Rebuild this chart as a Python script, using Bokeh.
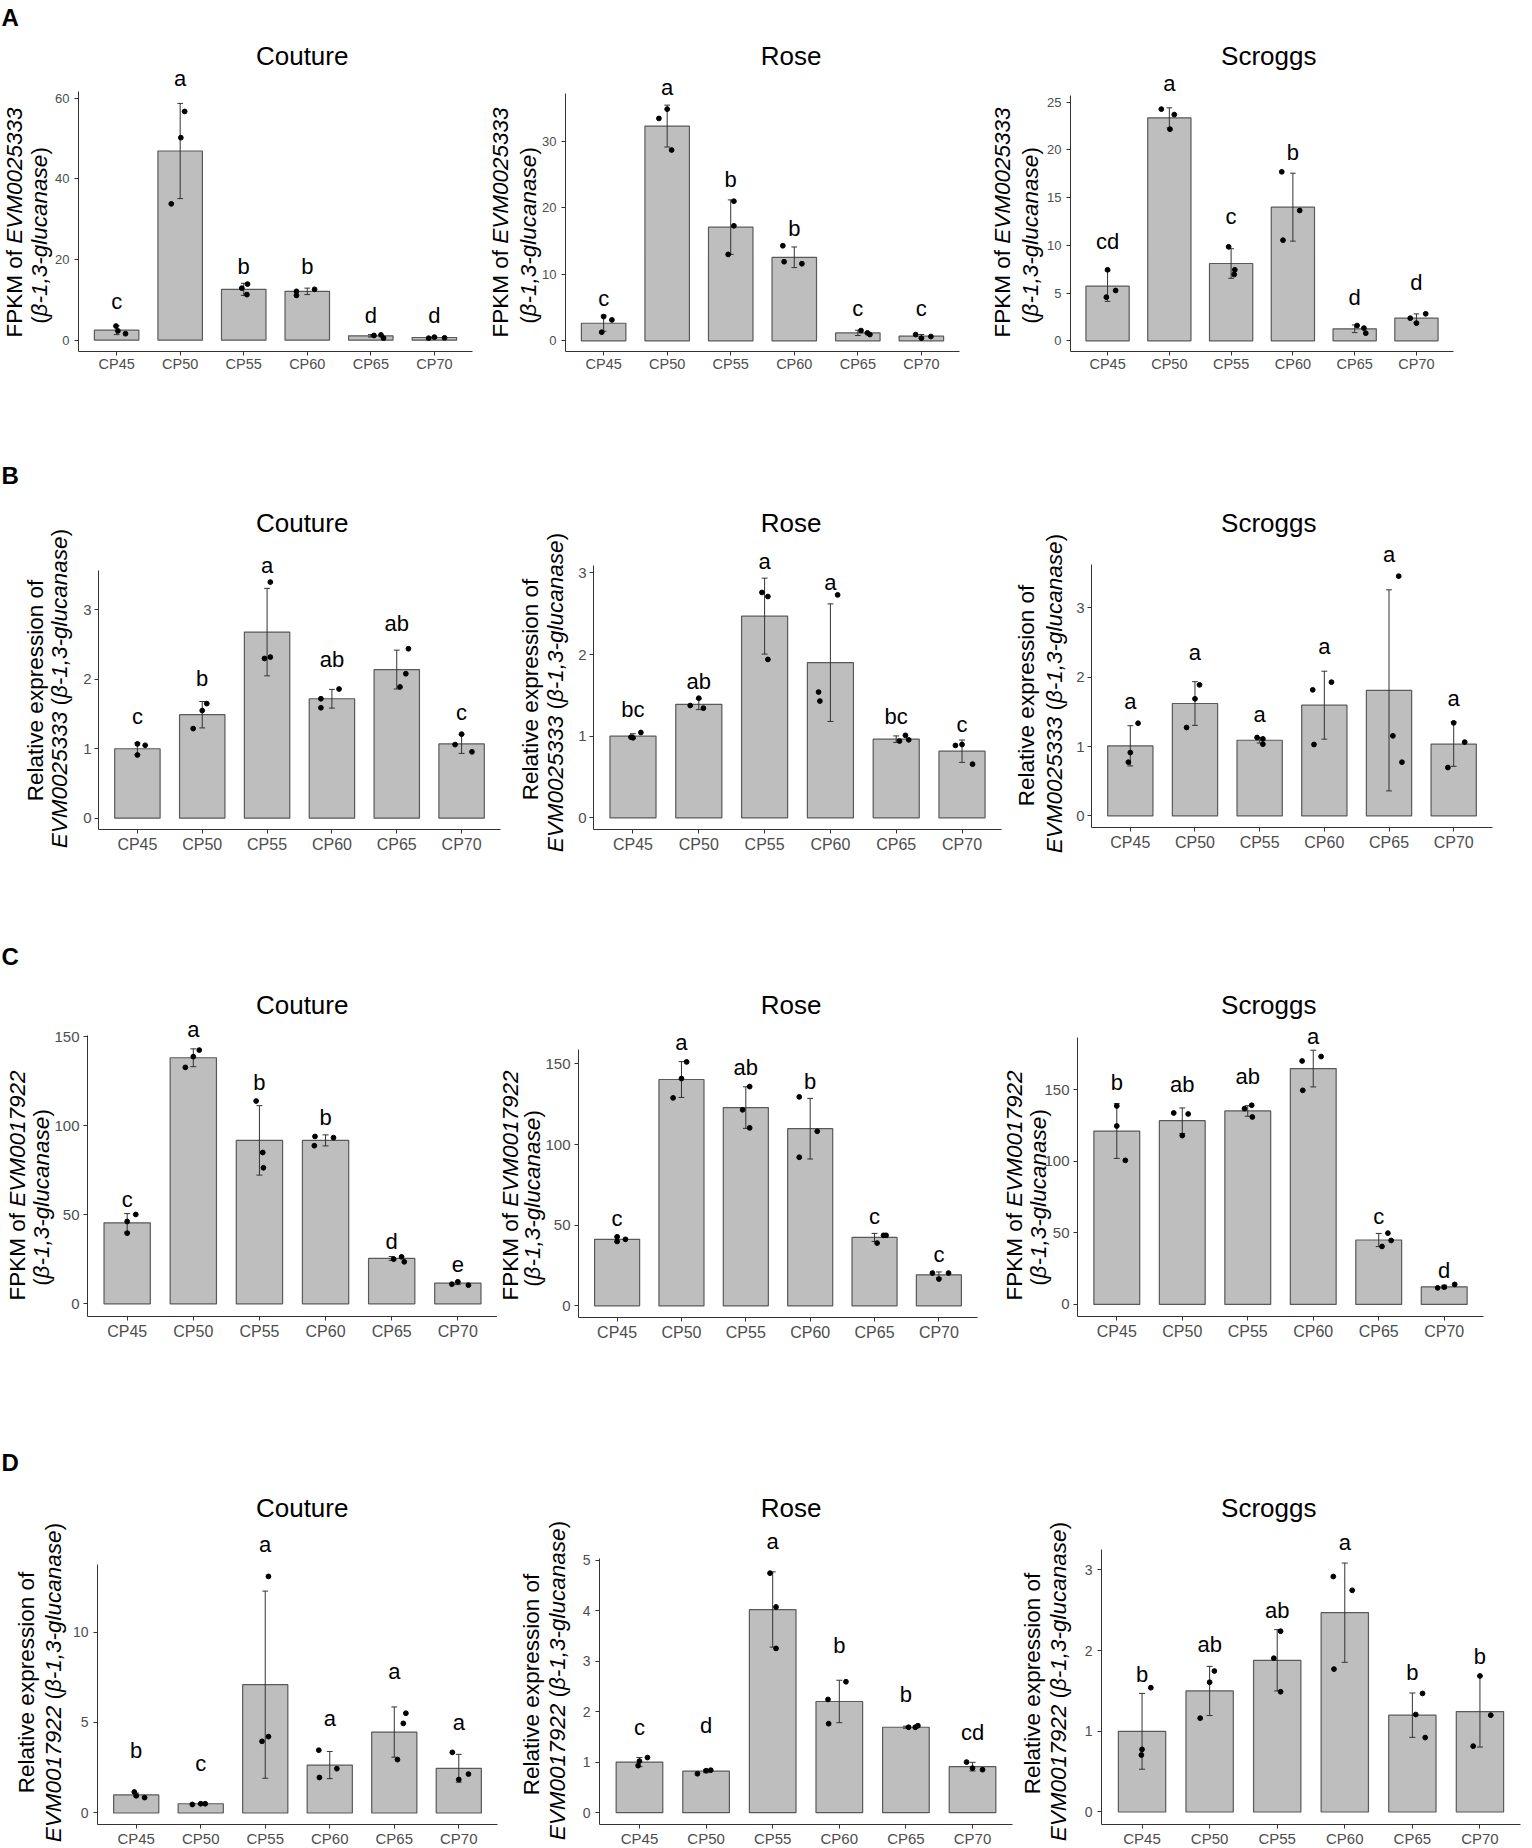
import numpy as np
from bokeh.plotting import figure
from bokeh.models import Range1d, FixedTicker, ColumnDataSource, LabelSet
from bokeh.layouts import row, column
from bokeh.embed import file_html
from bokeh.resources import INLINE
from bokeh.core.properties import value

# ------------------------------------------------------------------ data
CATEGORIES = ["CP45", "CP50", "CP55", "CP60", "CP65", "CP70"]
CULTIVARS = ["Couture", "Rose", "Scroggs"]
PANEL_TAGS = ["A", "B", "C", "D"]
GENES = ["EVM0025333", "EVM0025333", "EVM0017922", "EVM0017922"]

# Row A : FPKM of EVM0025333
A_COUTURE_MEAN = [2.48, 46.9, 12.6, 12.1, 1.07, 0.66]
A_COUTURE_SD = [1.1, 11.8, 1.5, 0.8, 0.3, 0.2]
A_COUTURE_REPS = [[3.5, 2.3, 1.6], [56.7, 50.2, 33.8], [12.9, 13.9, 11.3],
                  [12.1, 11.1, 12.6], [1.16, 1.3, 0.5], [0.5, 0.75, 0.58]]
A_COUTURE_JITTER = [[-0.01, 0.02, 0.14], [0.07, 0.01, -0.14], [-0.03, 0.06, 0.05],
                    [-0.17, -0.17, 0.115], [0.05, 0.16, 0.2], [-0.09, 0.0, 0.16]]
A_COUTURE_LETTERS = ["c", "a", "b", "b", "d", "d"]
A_COUTURE_LETTER_Y = [7.7, 62.9, 16.4, 16.4, 4.3, 4.3]
A_COUTURE_YTICKS = [0, 20, 40, 60]
A_COUTURE_YLIM = (-2.81, 61.65)

A_ROSE_MEAN = [2.65, 32.3, 17.1, 12.57, 1.2, 0.7]
A_ROSE_SD = [1.2, 3.15, 4.1, 1.55, 0.4, 0.25]
A_ROSE_REPS = [[3.65, 1.3, 3.15], [33.45, 34.85, 28.7], [21.0, 17.3, 13.0],
               [14.3, 11.9, 11.6], [1.55, 1.2, 0.95], [0.95, 0.4, 0.65]]
A_ROSE_JITTER = [[0.0, -0.03, 0.13], [-0.13, 0.0, 0.07], [0.05, 0.05, -0.04],
                 [-0.18, -0.16, 0.12], [0.05, 0.15, 0.19], [-0.09, 0.0, 0.15]]
A_ROSE_LETTERS = ["c", "a", "b", "b", "c", "c"]
A_ROSE_LETTER_Y = [5.3, 36.9, 23.1, 15.8, 3.8, 3.8]
A_ROSE_YTICKS = [0, 10, 20, 30]
A_ROSE_YLIM = (-1.6, 37.2)

A_SCROGGS_MEAN = [5.73, 23.36, 8.1, 14.0, 1.26, 2.37]
A_SCROGGS_SD = [1.6, 1.05, 1.55, 3.56, 0.4, 0.45]
A_SCROGGS_REPS = [[7.44, 4.57, 5.27], [24.27, 23.7, 22.17], [9.85, 7.44, 6.95],
                  [17.7, 10.54, 13.65], [1.6, 1.33, 0.8], [2.37, 1.85, 2.83]]
A_SCROGGS_JITTER = [[0.0, -0.02, 0.13], [-0.13, 0.08, 0.01], [-0.04, 0.06, 0.05],
                    [-0.18, -0.16, 0.11], [0.04, 0.15, 0.18], [-0.1, 0.0, 0.15]]
A_SCROGGS_LETTERS = ["cd", "a", "c", "b", "d", "d"]
A_SCROGGS_LETTER_Y = [9.64, 26.15, 12.19, 18.96, 3.7, 5.34]
A_SCROGGS_YTICKS = [0, 5, 10, 15, 20, 25]
A_SCROGGS_YLIM = (-1.12, 25.7)

# Row B : relative expression of EVM0025333
B_COUTURE_MEAN = [1.0, 1.49, 2.68, 1.72, 2.14, 1.07]
B_COUTURE_SD = [0.085, 0.19, 0.63, 0.135, 0.28, 0.137]
B_COUTURE_REPS = [[1.07, 0.91, 1.05], [1.29, 1.55, 1.65], [2.30, 2.32, 3.40],
                  [1.72, 1.59, 1.86], [1.89, 2.08, 2.44], [1.06, 1.21, 0.955]]
B_COUTURE_JITTER = [[0.0, 0.0, 0.12], [-0.14, 0.0, 0.07], [-0.04, 0.05, 0.05],
                    [-0.17, -0.17, 0.11], [0.05, 0.14, 0.18], [-0.1, 0.0, 0.16]]
B_COUTURE_LETTERS = ["c", "b", "a", "ab", "ab", "c"]
B_COUTURE_LETTER_Y = [1.36, 1.91, 3.53, 2.175, 2.70, 1.416]
B_COUTURE_YTICKS = [0, 1, 2, 3]
B_COUTURE_YLIM = (-0.163, 3.567)

B_ROSE_MEAN = [1.0, 1.39, 2.47, 1.90, 0.963, 0.816]
B_ROSE_SD = [0.03, 0.065, 0.465, 0.72, 0.04, 0.137]
B_ROSE_REPS = [[0.988, 0.98, 1.045], [1.375, 1.465, 1.343], [2.76, 2.71, 1.94],
               [1.54, 1.43, 2.73], [0.94, 1.01, 0.955], [0.886, 0.898, 0.657]]
B_ROSE_JITTER = [[-0.03, 0.0, 0.12], [-0.13, 0.0, 0.07], [-0.04, 0.05, 0.05],
                 [-0.18, -0.16, 0.11], [0.05, 0.14, 0.19], [-0.1, 0.0, 0.16]]
B_ROSE_LETTERS = ["bc", "ab", "a", "a", "bc", "c"]
B_ROSE_LETTER_Y = [1.233, 1.58, 3.05, 2.79, 1.15, 1.05]
B_ROSE_YTICKS = [0, 1, 2, 3]
B_ROSE_YLIM = (-0.143, 3.09)

B_SCROGGS_MEAN = [1.01, 1.62, 1.09, 1.596, 1.81, 1.034]
B_SCROGGS_SD = [0.29, 0.315, 0.04, 0.49, 1.45, 0.32]
B_SCROGGS_REPS = [[1.336, 0.913, 0.774], [1.274, 1.688, 1.889], [1.13, 1.11, 1.034],
                  [1.817, 1.029, 1.928], [1.154, 3.457, 0.774], [0.697, 1.341, 1.063]]
B_SCROGGS_JITTER = [[0.12, 0.0, -0.03], [-0.13, 0.0, 0.07], [-0.04, 0.05, 0.05],
                    [-0.18, -0.16, 0.11], [0.06, 0.15, 0.2], [-0.09, 0.0, 0.17]]
B_SCROGGS_LETTERS = ["a", "a", "a", "a", "a", "a"]
B_SCROGGS_LETTER_Y = [1.548, 2.245, 1.356, 2.33, 3.66, 1.58]
B_SCROGGS_YTICKS = [0, 1, 2, 3]
B_SCROGGS_YLIM = (-0.168, 3.625)

# Row C : FPKM of EVM0017922
C_COUTURE_MEAN = [45.5, 138.2, 91.8, 91.8, 25.5, 11.6]
C_COUTURE_SD = [5.2, 5.0, 19.5, 3.1, 1.1, 0.8]
C_COUTURE_REPS = [[46.25, 39.7, 50.2], [132.8, 138.8, 142.5], [113.9, 85.0, 76.4],
                  [94.0, 88.8, 93.3], [25.1, 26.4, 23.6], [11.05, 12.4, 10.5]]
C_COUTURE_JITTER = [[0.0, 0.0, 0.13], [-0.12, 0.0, 0.09], [-0.05, 0.05, 0.06],
                    [-0.16, -0.17, 0.12], [0.03, 0.15, 0.19], [-0.09, 0.0, 0.16]]
C_COUTURE_LETTERS = ["c", "a", "b", "b", "d", "e"]
C_COUTURE_LETTER_Y = [54.3, 149.8, 119.9, 100.2, 30.9, 17.8]
C_COUTURE_YTICKS = [0, 50, 100, 150]
C_COUTURE_YLIM = (-7.1, 150.7)

C_ROSE_MEAN = [41.2, 140.3, 122.9, 109.8, 42.4, 19.2]
C_ROSE_SD = [1.5, 11.1, 12.9, 18.8, 2.5, 1.8]
C_ROSE_REPS = [[42.8, 39.9, 41.2], [128.9, 140.9, 151.2], [121.5, 135.9, 110.3],
               [129.5, 92.1, 108.2], [38.9, 43.7, 43.7], [20.3, 16.6, 20.3]]
C_ROSE_JITTER = [[0.0, 0.0, 0.13], [-0.13, 0.0, 0.08], [-0.05, 0.06, 0.06],
                 [-0.17, -0.17, 0.11], [0.04, 0.14, 0.18], [-0.1, 0.0, 0.15]]
C_ROSE_LETTERS = ["c", "a", "ab", "b", "c", "c"]
C_ROSE_LETTER_Y = [49.7, 158.3, 142.8, 134.5, 50.7, 26.9]
C_ROSE_YTICKS = [0, 50, 100, 150]
C_ROSE_YLIM = (-7.24, 158.9)

C_SCROGGS_MEAN = [121.1, 128.3, 135.1, 164.7, 45.0, 12.35]
C_SCROGGS_SD = [19.1, 8.9, 3.7, 12.8, 4.6, 1.1]
C_SCROGGS_REPS = [[138.6, 124.6, 100.6], [133.7, 133.0, 117.9], [136.7, 139.1, 130.9],
                  [170.0, 149.5, 173.1], [40.5, 49.8, 44.7], [11.6, 12.1, 14.0]]
C_SCROGGS_JITTER = [[0.0, 0.0, 0.13], [-0.13, 0.09, 0.0], [-0.05, 0.06, 0.07],
                    [-0.17, -0.16, 0.12], [0.05, 0.14, 0.19], [-0.1, 0.0, 0.16]]
C_SCROGGS_LETTERS = ["b", "ab", "ab", "a", "c", "d"]
C_SCROGGS_LETTER_Y = [149.5, 148.4, 153.7, 181.7, 56.4, 18.6]
C_SCROGGS_YTICKS = [0, 50, 100, 150]
C_SCROGGS_YLIM = (-8.4, 186.4)

# Row D : relative expression of EVM0017922
D_COUTURE_MEAN = [1.0, 0.51, 7.09, 2.65, 4.47, 2.47]
D_COUTURE_SD = [0.1, 0.02, 5.17, 0.75, 1.39, 0.77]
D_COUTURE_REPS = [[1.16, 0.95, 0.85], [0.47, 0.51, 0.51], [3.96, 4.22, 13.07],
                  [3.47, 1.96, 2.45], [2.95, 4.95, 5.51], [3.35, 1.85, 2.15]]
D_COUTURE_JITTER = [[-0.03, 0.0, 0.13], [-0.13, 0.0, 0.07], [-0.05, 0.05, 0.05],
                    [-0.17, -0.16, 0.11], [0.05, 0.14, 0.18], [-0.1, 0.0, 0.15]]
D_COUTURE_LETTERS = ["b", "c", "a", "a", "a", "a"]
D_COUTURE_LETTER_Y = [3.05, 2.33, 14.42, 4.78, 7.42, 4.6]
D_COUTURE_YTICKS = [0, 5, 10]
D_COUTURE_YLIM = (-0.636, 13.73)

D_ROSE_MEAN = [1.0, 0.82, 4.02, 2.2, 1.69, 0.91]
D_ROSE_SD = [0.09, 0.03, 0.745, 0.42, 0.02, 0.085]
D_ROSE_REPS = [[0.93, 1.02, 1.09], [0.77, 0.83, 0.84], [4.74, 4.07, 3.25],
               [2.24, 1.76, 2.59], [1.69, 1.69, 1.72], [1.0, 0.88, 0.85]]
D_ROSE_JITTER = [[-0.02, 0.0, 0.12], [-0.13, 0.0, 0.07], [-0.04, 0.05, 0.05],
                 [-0.17, -0.16, 0.1], [0.04, 0.14, 0.18], [-0.09, 0.0, 0.15]]
D_ROSE_LETTERS = ["c", "d", "a", "b", "b", "cd"]
D_ROSE_LETTER_Y = [1.545, 1.58, 5.21, 3.16, 2.18, 1.43]
D_ROSE_YTICKS = [0, 1, 2, 3, 4, 5]
D_ROSE_YLIM = (-0.235, 5.03)

D_SCROGGS_MEAN = [1.0, 1.50, 1.88, 2.47, 1.2, 1.245]
D_SCROGGS_SD = [0.47, 0.305, 0.38, 0.615, 0.275, 0.44]
D_SCROGGS_REPS = [[1.54, 0.776, 0.706], [1.163, 1.608, 1.747], [1.906, 2.24, 1.49],
                  [2.918, 1.771, 2.747], [1.208, 1.469, 0.922], [0.816, 1.686, 1.2]]
D_SCROGGS_JITTER = [[0.13, 0.0, -0.01], [-0.14, 0.0, 0.07], [-0.05, 0.05, 0.05],
                    [-0.17, -0.16, 0.11], [0.05, 0.15, 0.19], [-0.1, 0.0, 0.16]]
D_SCROGGS_LETTERS = ["b", "ab", "ab", "a", "b", "b"]
D_SCROGGS_LETTER_Y = [1.612, 1.988, 2.408, 3.253, 1.633, 1.837]
D_SCROGGS_YTICKS = [0, 1, 2, 3]
D_SCROGGS_YLIM = (-0.155, 3.253)

PANELS = {
    (0, 0): (A_COUTURE_MEAN, A_COUTURE_SD, A_COUTURE_REPS, A_COUTURE_JITTER, A_COUTURE_LETTERS, A_COUTURE_LETTER_Y, A_COUTURE_YTICKS, A_COUTURE_YLIM),
    (0, 1): (A_ROSE_MEAN, A_ROSE_SD, A_ROSE_REPS, A_ROSE_JITTER, A_ROSE_LETTERS, A_ROSE_LETTER_Y, A_ROSE_YTICKS, A_ROSE_YLIM),
    (0, 2): (A_SCROGGS_MEAN, A_SCROGGS_SD, A_SCROGGS_REPS, A_SCROGGS_JITTER, A_SCROGGS_LETTERS, A_SCROGGS_LETTER_Y, A_SCROGGS_YTICKS, A_SCROGGS_YLIM),
    (1, 0): (B_COUTURE_MEAN, B_COUTURE_SD, B_COUTURE_REPS, B_COUTURE_JITTER, B_COUTURE_LETTERS, B_COUTURE_LETTER_Y, B_COUTURE_YTICKS, B_COUTURE_YLIM),
    (1, 1): (B_ROSE_MEAN, B_ROSE_SD, B_ROSE_REPS, B_ROSE_JITTER, B_ROSE_LETTERS, B_ROSE_LETTER_Y, B_ROSE_YTICKS, B_ROSE_YLIM),
    (1, 2): (B_SCROGGS_MEAN, B_SCROGGS_SD, B_SCROGGS_REPS, B_SCROGGS_JITTER, B_SCROGGS_LETTERS, B_SCROGGS_LETTER_Y, B_SCROGGS_YTICKS, B_SCROGGS_YLIM),
    (2, 0): (C_COUTURE_MEAN, C_COUTURE_SD, C_COUTURE_REPS, C_COUTURE_JITTER, C_COUTURE_LETTERS, C_COUTURE_LETTER_Y, C_COUTURE_YTICKS, C_COUTURE_YLIM),
    (2, 1): (C_ROSE_MEAN, C_ROSE_SD, C_ROSE_REPS, C_ROSE_JITTER, C_ROSE_LETTERS, C_ROSE_LETTER_Y, C_ROSE_YTICKS, C_ROSE_YLIM),
    (2, 2): (C_SCROGGS_MEAN, C_SCROGGS_SD, C_SCROGGS_REPS, C_SCROGGS_JITTER, C_SCROGGS_LETTERS, C_SCROGGS_LETTER_Y, C_SCROGGS_YTICKS, C_SCROGGS_YLIM),
    (3, 0): (D_COUTURE_MEAN, D_COUTURE_SD, D_COUTURE_REPS, D_COUTURE_JITTER, D_COUTURE_LETTERS, D_COUTURE_LETTER_Y, D_COUTURE_YTICKS, D_COUTURE_YLIM),
    (3, 1): (D_ROSE_MEAN, D_ROSE_SD, D_ROSE_REPS, D_ROSE_JITTER, D_ROSE_LETTERS, D_ROSE_LETTER_Y, D_ROSE_YTICKS, D_ROSE_YLIM),
    (3, 2): (D_SCROGGS_MEAN, D_SCROGGS_SD, D_SCROGGS_REPS, D_SCROGGS_JITTER, D_SCROGGS_LETTERS, D_SCROGGS_LETTER_Y, D_SCROGGS_YTICKS, D_SCROGGS_YLIM),
}

# ------------------------------------------------------------------ layout (page pixel coordinates)
ROW_SPANS = [(0, 450), (450, 940), (940, 1435), (1435, 1848)]
COL_SPANS = [[(0, 485), (485, 988), (988, 1532)],
             [(0, 505), (505, 1008), (1008, 1532)],
             [(0, 497), (497, 1000), (1000, 1532)],
             [(0, 510), (510, 1015), (1015, 1532)]]
# axis box of every panel: left, right, top, bottom
FRAMES = [[(78, 472, 91, 351), (565, 959, 93, 351), (1070, 1453, 95, 351)],
          [(98, 500, 570, 829), (593, 1001, 565, 829), (1091, 1492, 564, 827)],
          [(87, 497, 1035, 1316), (578, 977, 1049, 1317), (1077, 1483, 1037, 1316)],
          [(97, 497, 1564, 1824), (599, 1012, 1558, 1824), (1101, 1520, 1549, 1824)]]
# y-title: baseline x of the two lines, centre y of the two lines
YLAB_X = [[(22, 47), (508, 536), (1010, 1038)],
          [(43, 67), (538, 563), (1034, 1062)],
          [(25, 49), (518, 540), (1022, 1046)],
          [(34, 61), (539, 565), (1040, 1066)]]
YLAB_Y = [[(222, 235), (222, 235), (222, 235)],
          [(690, 688), (689, 692), (695, 693)],
          [(1185, 1197), (1185, 1198), (1185, 1197)],
          [(1682, 1682), (1684, 1680), (1683, 1681)]]
TITLE_X = [301.7, 790.7, 1268.3]
TITLE_BASE = [64, 531.7, 1013.3, 1516.7]
TAG_BASE = [25, 483, 964, 1470]
XTICK_FS = ["14.5px", "16px", "16px", "15px"]
XTICK_STANDOFF = [0, 2, 2, 1]
YTICK_FS = ["13px", "15px", "15px", "14px"]
YTICK_STANDOFF = [5, 3, 4, 5]

FONT = "Liberation Sans"
BAR_FILL = "#bebebe"
BAR_LINE = "#595959"
AXIS_COL = "#333333"
TICK_TXT = "#4d4d4d"
YLAB_FS = 22.5

# Arial / Liberation Sans advance widths (1/1000 em)
AW = {' ': 278, '(': 333, ')': 333, ',': 278, '-': 333, 'β': 575,
      'C': 722, 'E': 667, 'F': 611, 'K': 667, 'M': 833, 'P': 667, 'R': 722, 'V': 667,
      'a': 556, 'c': 500, 'e': 556, 'f': 278, 'g': 556, 'i': 222, 'l': 222, 'n': 556,
      'o': 556, 'p': 556, 'r': 333, 's': 500, 't': 278, 'u': 556, 'v': 500, 'x': 500}


def tw(s, fs):
    return sum(AW.get(ch, 556) for ch in s) * fs / 1000.0


def ylabel_lines(r):
    gene = GENES[r]
    if r in (0, 2):
        l1 = [("FPKM of", "normal"), (" ", "normal"), (gene, "italic")]
        l2 = [("(", "normal"), ("β-1,3-glucanase", "italic"), (")", "normal")]
    else:
        l1 = [("Relative expression of", "normal")]
        l2 = [(gene, "italic"), (" ", "normal"), ("(", "normal"),
              ("β-1,3-glucanase", "italic"), (")", "normal")]
    return l1, l2


def add_text(p, x, y, text, size, style="normal", align="left", angle=0.0):
    src = ColumnDataSource(dict(x=[x], y=[y], t=[text]))
    p.add_layout(LabelSet(x="x", y="y", text="t", source=src, angle=angle,
                          text_align=align, text_baseline="alphabetic",
                          text_font=value(FONT), text_font_size=value(size),
                          text_font_style=value(style), text_color="black"))


def make_panel(r, c):
    mean, sd, reps, jit, letters, letter_y, yticks, ylim = PANELS[(r, c)]
    cs, ce = COL_SPANS[r][c]
    rs, re_ = ROW_SPANS[r]
    fl, fr, ft, fb = FRAMES[r][c]
    ylo, yhi = ylim
    ppx = (fr - fl) / 6.2
    ppy = (fb - ft) / (yhi - ylo)

    def X(px):
        return 0.4 + (px - fl) / ppx

    def Y(py):
        return ylo + (fb - py) / ppy

    p = figure(width=ce - cs, height=re_ - rs,
               x_range=Range1d(X(cs), X(ce)), y_range=Range1d(Y(re_), Y(rs)),
               output_backend="svg", toolbar_location=None,
               min_border=0, min_border_left=0, min_border_right=0,
               min_border_top=0, min_border_bottom=0)
    p.outline_line_color = None
    p.xgrid.visible = False
    p.ygrid.visible = False
    p.background_fill_color = "white"
    p.border_fill_color = "white"

    xs = list(range(1, len(CATEGORIES) + 1))
    lo = [m - s for m, s in zip(mean, sd)]
    hi = [m + s for m, s in zip(mean, sd)]
    src = ColumnDataSource(dict(x=xs, mean=mean, lo=lo, hi=hi,
                                xl=[x - 0.045 for x in xs], xr=[x + 0.045 for x in xs],
                                ly=letter_y, lt=letters))
    p.vbar(x="x", top="mean", bottom=0, width=0.7, source=src,
           fill_color=BAR_FILL, line_color=BAR_LINE, line_width=1.2)
    p.segment(x0="x", y0="lo", x1="x", y1="hi", source=src, line_color=AXIS_COL, line_width=1)
    p.segment(x0="xl", y0="hi", x1="xr", y1="hi", source=src, line_color=AXIS_COL, line_width=1)
    p.segment(x0="xl", y0="lo", x1="xr", y1="lo", source=src, line_color=AXIS_COL, line_width=1)

    px, py = [], []
    for i, (vals, offs) in enumerate(zip(reps, jit)):
        for v, o in zip(vals, offs):
            px.append(i + 1 + o)
            py.append(v)
    p.scatter(px, py, size=4.8, color="black")

    p.add_layout(LabelSet(x="x", y="ly", text="lt", source=src, text_align="center",
                          text_baseline="alphabetic", text_font=value(FONT),
                          text_font_size=value("22px"), text_color="black"))

    # axes pinned at the panel's lower-left corner, drawn only over the data span
    for ax in (p.xaxis[0], p.yaxis[0]):
        ax.axis_line_color = AXIS_COL
        ax.axis_line_width = 1
        ax.major_tick_line_color = AXIS_COL
        ax.major_tick_out = 4
        ax.major_tick_in = 0
        ax.minor_tick_line_color = None
        ax.major_label_text_color = TICK_TXT
        ax.major_label_text_font = FONT
    p.yaxis.fixed_location = 0.4
    p.yaxis.bounds = (ylo, yhi)
    p.yaxis.ticker = FixedTicker(ticks=yticks)
    p.yaxis.major_label_text_font_size = YTICK_FS[r]
    p.yaxis.major_label_standoff = YTICK_STANDOFF[r]
    p.xaxis.fixed_location = ylo
    p.xaxis.bounds = (0.4, 6.6)
    p.xaxis.ticker = FixedTicker(ticks=xs)
    p.xaxis.major_label_overrides = {x: cat for x, cat in zip(xs, CATEGORIES)}
    p.xaxis.major_label_text_font_size = XTICK_FS[r]
    p.xaxis.major_label_standoff = XTICK_STANDOFF[r]

    # title
    add_text(p, X(TITLE_X[c]), Y(TITLE_BASE[r]), CULTIVARS[c], "26px", align="center")
    # y title: two rotated lines with mixed upright / italic parts
    for segs, bx, cy in zip(ylabel_lines(r), YLAB_X[r][c], YLAB_Y[r][c]):
        total = sum(tw(s, YLAB_FS) for s, _ in segs)
        cur = cy + total / 2.0
        for s, style in segs:
            if s.strip():
                add_text(p, X(bx), Y(cur), s, f"{YLAB_FS}px", style=style,
                         align="left", angle=np.pi / 2)
            cur -= tw(s, YLAB_FS)
    # panel tag
    if c == 0:
        add_text(p, X(cs + 1), Y(TAG_BASE[r]), PANEL_TAGS[r], "24px", style="bold")
    return p


rows = []
for r in range(4):
    rows.append(row(*[make_panel(r, c) for c in range(3)]))
layout = column(*rows)

open("out.html", "w").write(file_html(layout, INLINE))
